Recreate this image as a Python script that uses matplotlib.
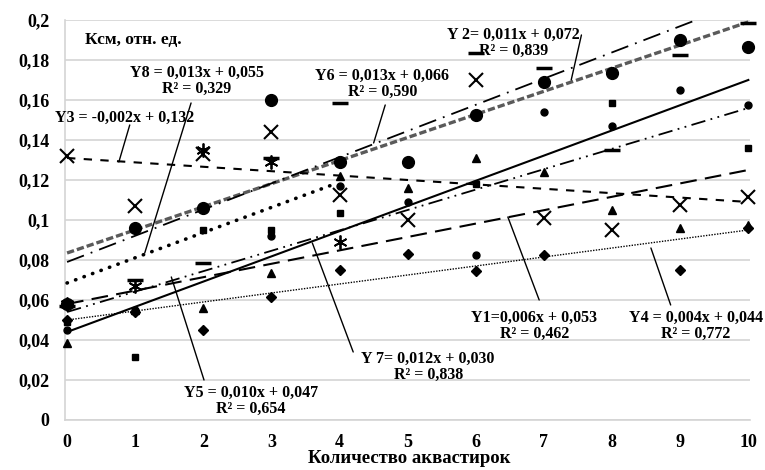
import numpy as np
import matplotlib
matplotlib.use("Agg")
import matplotlib.pyplot as plt

plt.rcParams['font.family'] = ['Liberation Serif', 'DejaVu Serif']
plt.rcParams['font.weight'] = 'bold'

x = np.arange(0, 11)

# point values (nan = not visible)
y1_tri = [0.0385, 0.055, 0.056, 0.0735, 0.122, 0.116, 0.131, 0.124, 0.105, 0.096, 0.0975]
y2_big = [0.058, 0.096, 0.106, 0.160, 0.129, 0.129, 0.1525, 0.169, 0.1735, 0.190, 0.1865]
y3_x = [0.132, 0.107, 0.133, 0.144, 0.1125, 0.100, 0.170, 0.101, 0.095, 0.1075, 0.1115]
y4_dia = [0.050, 0.054, 0.045, 0.0615, 0.075, 0.083, 0.0745, 0.0825, np.nan, 0.075, 0.096]
y5_sq = [0.049, 0.0315, 0.095, 0.095, 0.1035, np.nan, 0.118, np.nan, 0.1585, np.nan, 0.136]
y6_dash = [0.057, 0.070, 0.0785, 0.131, 0.1585, np.nan, 0.1835, 0.176, 0.135, 0.1825, 0.1985]
y7_dot = [0.045, 0.055, np.nan, 0.092, 0.117, 0.109, 0.0825, 0.154, 0.147, 0.165, 0.1575]
y8_ast = [0.058, 0.067, 0.135, 0.129, 0.089, np.nan, np.nan, np.nan, np.nan, np.nan, np.nan]

# trend lines as drawn: intercept, slope, last x
trend_b0 = [0.058, 0.0835, 0.131, 0.050, 0.054, 0.079, 0.044, 0.0685]
trend_b1 = [0.0067, 0.01155, -0.0022, 0.0045, 0.0102, 0.0131, 0.0126, 0.0126]
trend_xend = [10, 10, 10, 10, 10, 10, 10, 3.9]

labels = [
    "Y1=0,006x + 0,053\nR² = 0,462",
    "Y 2= 0,011x + 0,072\nR² = 0,839",
    "Y3 = -0,002x + 0,132",
    "Y4 = 0,004x + 0,044\nR² = 0,772",
    "Y5 = 0,010x + 0,047\nR² = 0,654",
    "Y6 = 0,013x + 0,066\nR² = 0,590",
    "Y 7= 0,012x + 0,030\nR² = 0,838",
    "Y8 = 0,013x + 0,055\nR² = 0,329",
]
label_pos = [(6.86, 0.047), (6.55, 0.1885), (0.85, 0.151), (9.23, 0.047),
             (2.70, 0.0095), (4.63, 0.168), (5.30, 0.0265), (1.90, 0.1695)]
leader_from = [(6.93, 0.060), (7.55, 0.1925), (0.92, 0.1475), (8.86, 0.0575),
               (2.01, 0.020), (4.67, 0.1575), (4.20, 0.034), (1.82, 0.1585)]
leader_to = [(6.47, 0.1015), (7.40, 0.170), (0.76, 0.129), (8.57, 0.086),
             (1.53, 0.0715), (4.50, 0.1385), (3.60, 0.0885), (1.14, 0.0835)]

yticks = [0, 0.02, 0.04, 0.06, 0.08, 0.1, 0.12, 0.14, 0.16, 0.18, 0.2]
ytick_labels = ["0", "0,02", "0,04", "0,06", "0,08", "0,1", "0,12", "0,14", "0,16", "0,18", "0,2"]

fig = plt.figure(figsize=(7.65, 4.7), dpi=100)
ax = fig.add_axes([0.085, 0.1064, 0.895, 0.8511])

series = [y1_tri, y2_big, y3_x, y4_dia, y5_sq, y6_dash, y7_dot, y8_ast]
styles = [
    dict(marker='^', ms=6),
    dict(marker='o', ms=8.5),
    dict(marker='x', ms=10, mew=1.5),
    dict(marker='D', ms=5.5),
    dict(marker='s', ms=5),
    dict(marker='_', ms=11, mew=2.5),
    dict(marker='o', ms=5),
    dict(marker=(6, 2, 0), ms=10, mew=1.3),
]
for ys, st in zip(series, styles):
    ax.plot(x, ys, ls='none', color='black', clip_on=False, zorder=4, **st)

line_styles = [
    dict(color='black', lw=1.5, dashes=(8, 4)),
    dict(color='#5a5a5a', lw=2.4, dashes=(2.2, 0.9)),
    dict(color='black', lw=1.5, dashes=(4, 4)),
    dict(color='black', lw=1.0, dashes=(1, 1)),
    dict(color='black', lw=1.3, dashes=(8, 3, 1, 3, 1, 3)),
    dict(color='black', lw=1.3, dashes=(10, 4, 1, 4)),
    dict(color='black', lw=1.5),
    dict(color='black', lw=2.6, dashes=(0.1, 2.4), dash_capstyle='round'),
]
for b0, b1, xe, st in zip(trend_b0, trend_b1, trend_xend, line_styles):
    xs = np.array([0, xe])
    ax.plot(xs, b0 + b1 * xs, zorder=3, **st)

for txt, pos, p0, p1 in zip(labels, label_pos, leader_from, leader_to):
    ax.text(pos[0], pos[1], txt, ha='center', va='center', fontsize=11.5,
            fontweight='bold', linespacing=1.05, zorder=5)
    ax.annotate('', xy=p1, xytext=p0,
                arrowprops=dict(arrowstyle='-', lw=1.0, color='black',
                                shrinkA=0, shrinkB=0))

ax.text(0.26, 0.19, "Ксм, отн. ед.", ha='left', va='center', fontsize=12.5, fontweight='bold')
fig.text(0.535, 0.024, "Количество аквастирок", ha='center', va='center',
         fontsize=13.5, fontweight='bold')

ax.set_xlim(-0.03, 10.02)
ax.set_ylim(0, 0.2)
ax.set_yticks(yticks)
ax.set_yticklabels(ytick_labels)
ax.set_xticks(x)
ax.set_xticklabels([str(v) for v in x])
ax.tick_params(length=0, labelsize=13)
ax.tick_params(axis='y', pad=11)
ax.tick_params(axis='x', pad=10)
ax.grid(axis='y', color='#d4d4d4', lw=1.2)
ax.set_axisbelow(True)
for s in ['top', 'right']:
    ax.spines[s].set_visible(False)
for s in ['left', 'bottom']:
    ax.spines[s].set_color('#d4d4d4')
    ax.spines[s].set_linewidth(1.2)

fig.savefig("out.png", dpi=100)
